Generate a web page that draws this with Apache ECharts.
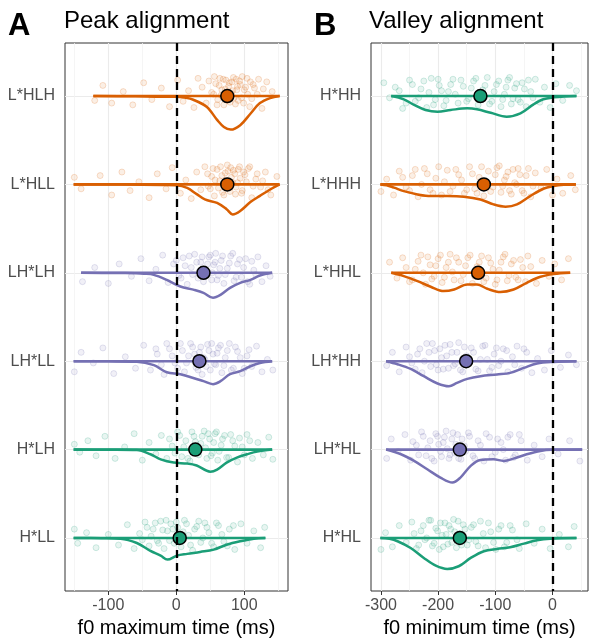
<!DOCTYPE html>
<html>
<head>
<meta charset="utf-8">
<script src="https://cdn.jsdelivr.net/npm/echarts@6/dist/echarts.min.js"></script>
<style>html,body{margin:0;padding:0;background:#fff}#c{width:590px;height:644px}</style>
</head>
<body>
<div id="c"></div>
<script>
// ---------------- DATA ----------------
const catsA = ['L*HLH', 'L*HLL', 'LH*LH', 'LH*LL', 'H*LH', 'H*LL'];
const catsB = ['H*HH', 'L*HHH', 'L*HHL', 'LH*HH', 'LH*HL', 'H*HL'];
const ticksA = [-100, 0, 100];
const minorA = [-150, -50, 50, 150];
const ticksB = [-300, -200, -100, 0];
const minorB = [-250, -150, -50, 50];
const zeroRef = 0;

// mean per category (ms)
const meansA = [75, 75, 40, 34, 28, 5];
const meansB = [-126, -120, -130, -151, -162, -162];

// density outline per category: [time, depth below the category line (category units)]
const densA_LHLH = [[-122,0],[-60,0.003],[-20,0.008],[0,0.008],[12,0.018],[25,0.042],[45,0.124],[60,0.27],[70,0.35],[80,0.38],[94,0.33],[109,0.2],[123,0.08],[138,0.023],[152,0]];
const densA_LHLL = [[-151,0],[-80,0.002],[-20,0.006],[0,0.01],[16,0.04],[30,0.11],[42,0.17],[60,0.21],[74,0.28],[83,0.34],[94,0.3],[109,0.2],[123,0.13],[138,0.057],[152,0]];
const densA_LHxLH = [[-140,0],[-90,0.002],[-60,0.006],[-48,0.01],[-33,0.023],[-14,0.08],[6,0.155],[25,0.19],[40,0.226],[54,0.283],[65,0.25],[79,0.17],[94,0.113],[109,0.08],[123,0.03],[141,0]];
const densA_LHxLL = [[-151,0],[-100,0.002],[-58,0.006],[-33,0.045],[-14,0.125],[6,0.147],[25,0.19],[40,0.226],[54,0.26],[65,0.226],[79,0.147],[94,0.113],[109,0.057],[123,0.02],[141,0]];
const densA_HLH = [[-151,0],[-100,0.002],[-58,0.006],[-38,0.053],[-23,0.11],[-4,0.147],[16,0.158],[30,0.18],[50,0.25],[60,0.226],[74,0.147],[89,0.09],[104,0.053],[119,0.023],[141,0]];
const densA_HLL = [[-151,0],[-110,0.002],[-82,0.008],[-58,0.057],[-38,0.147],[-23,0.2],[-13,0.245],[1,0.2],[16,0.18],[35,0.158],[55,0.132],[74,0.076],[94,0.037],[114,0.008],[131,0]];

const densB_HHH = [[-282,0],[-260,0.037],[-242,0.1],[-222,0.158],[-201,0.178],[-178,0.158],[-149,0.139],[-132,0.15],[-108,0.19],[-80,0.234],[-56,0.196],[-33,0.094],[-16,0.037],[2,0.015],[20,0.004],[42,0]];
const densB_LHHH = [[-301,0],[-290,0.01],[-277,0.037],[-260,0.076],[-236,0.113],[-213,0.132],[-184,0.132],[-155,0.139],[-126,0.17],[-103,0.226],[-82,0.252],[-62,0.226],[-39,0.132],[-16,0.049],[2,0.019],[20,0.005],[41,0]];
const densB_LHHL = [[-282,0],[-260,0.037],[-236,0.094],[-213,0.158],[-190,0.207],[-172,0.189],[-149,0.132],[-132,0.132],[-114,0.181],[-91,0.218],[-68,0.189],[-45,0.113],[-21,0.045],[2,0.015],[31,0]];
const densB_LHxHH = [[-291,0],[-271,0.034],[-248,0.087],[-225,0.17],[-201,0.252],[-181,0.283],[-167,0.245],[-149,0.2],[-126,0.17],[-97,0.15],[-74,0.132],[-50,0.076],[-27,0.026],[2,0.008],[42,0]];
const densB_LHxHL = [[-291,0],[-265,0.053],[-242,0.128],[-219,0.223],[-196,0.317],[-175,0.373],[-161,0.317],[-143,0.184],[-126,0.117],[-103,0.11],[-85,0.128],[-68,0.102],[-45,0.053],[-21,0.015],[0,0.003],[52,0]];
const densB_HHL = [[-301,0],[-285,0.01],[-271,0.037],[-248,0.113],[-225,0.226],[-204,0.313],[-184,0.35],[-164,0.32],[-143,0.226],[-120,0.15],[-97,0.124],[-74,0.105],[-50,0.064],[-27,0.026],[-4,0.008],[42,0]];

// raw observations: [time, vertical jitter (category units)]
const ptsA_LHLH = [[-120,0.05],[-108,-0.12],[-95,0.08],[-78,-0.05],[-64,0.1],[-48,-0.15],[-36,0.04],[-22,-0.09],[-10,0.12],[2,-0.18],[10,0.06],[18,-0.06],[26,0.13],[32,-0.2],[38,-0.1],[44,0.08],[48,-0.17],[52,-0.04],[56,-0.22],[60,0.1],[63,-0.12],[66,-0.01],[69,-0.19],[72,-0.08],[75,0.05],[78,-0.15],[81,-0.03],[84,-0.21],[87,0.09],[90,-0.11],[93,-0.17],[96,0.02],[100,-0.07],[104,-0.2],[108,0.12],[113,-0.13],[119,-0.02],[126,0.14],[133,-0.16],[141,-0.05],
  [55,-0.02],[58,-0.14],[61,0.04],[64,-0.2],[67,-0.07],[70,0.1],[73,-0.18],[74,-0.04],[77,-0.11],[79,0.07],[82,-0.16],[83,-0.06],[85,0.02],[88,-0.19],[89,-0.07],[91,0.05],[94,-0.13],[97,-0.22],[99,0.08],[102,-0.1],[105,-0.02],[109,-0.16],[111,0.03],[115,-0.09],[121,-0.19],[128,-0.08]];
const ptsA_LHLL = [[-150,-0.08],[-140,0.05],[-112,-0.1],[-95,0.12],[-80,-0.14],[-68,0.07],[-55,-0.03],[-40,0.15],[-28,-0.12],[-15,0.05],[-6,-0.19],[6,0.1],[14,-0.05],[22,0.16],[30,-0.14],[36,0.06],[42,-0.2],[47,0.02],[52,-0.09],[56,0.13],[60,-0.17],[64,-0.04],[68,0.09],[72,-0.13],[75,-0.22],[78,0.04],[81,-0.08],[84,-0.16],[87,0.11],[90,-0.02],[93,-0.2],[97,0.07],[101,-0.11],[106,-0.18],[111,0.15],[117,-0.06],[124,0.03],[131,-0.14],[139,0.12],[148,-0.09],
  [46,-0.12],[50,0.05],[54,-0.18],[57,-0.05],[62,0.04],[65,-0.2],[67,-0.1],[70,0.12],[73,-0.05],[76,-0.15],[79,0.08],[80,-0.19],[83,-0.02],[86,-0.12],[88,0.03],[91,-0.17],[94,-0.07],[96,0.1],[99,-0.14],[103,-0.03],[108,-0.2],[113,0.02],[119,-0.12],[127,-0.04],[135,0.06]];
const ptsA_LHxLH = [[-138,0.1],[-120,-0.06],[-100,0.12],[-84,-0.1],[-66,0.04],[-52,-0.16],[-40,0.09],[-30,-0.04],[-20,-0.2],[-12,0.11],[-4,-0.1],[4,0.03],[10,-0.17],[16,0.13],[22,-0.06],[27,-0.21],[32,0.06],[36,-0.12],[40,0.1],[44,-0.02],[48,-0.18],[52,0.08],[55,-0.09],[58,-0.22],[62,0.03],[66,-0.14],[70,0.12],[75,-0.05],[80,-0.19],[85,0.09],[90,-0.1],[96,0.05],[102,-0.16],[108,0.13],[114,-0.03],[120,-0.18],[126,0.1],[132,-0.08],[138,0.04],
  [0,-0.14],[7,0.06],[13,-0.08],[19,-0.19],[24,0.02],[30,-0.12],[34,-0.02],[38,-0.18],[42,0.04],[46,-0.1],[50,-0.2],[53,0.0],[57,-0.12],[60,0.08],[64,-0.05],[68,-0.19],[72,0.02],[78,-0.11],[83,-0.22],[88,0.05],[93,-0.15],[99,-0.06],[105,0.1],[111,-0.13],[117,0.02]];
const ptsA_LHxLL = [[-150,0.12],[-140,-0.1],[-122,0.02],[-108,-0.15],[-92,0.14],[-75,-0.05],[-60,0.08],[-48,-0.18],[-38,0.1],[-28,-0.08],[-18,0.15],[-10,-0.14],[-2,0.02],[6,-0.2],[12,0.12],[18,-0.06],[24,-0.16],[29,0.07],[34,-0.1],[38,0.15],[42,-0.02],[46,-0.19],[50,0.1],[54,-0.08],[58,0.04],[62,-0.15],[67,0.13],[72,-0.04],[78,-0.2],[84,0.08],[90,-0.11],[97,0.14],[104,-0.06],[111,0.06],[118,-0.17],[126,0.12],[134,-0.02],[142,0.1],
  [-30,-0.14],[-22,0.04],[-14,-0.2],[-6,-0.06],[2,0.08],[9,-0.12],[15,0.02],[21,-0.2],[27,-0.08],[32,0.1],[36,-0.16],[40,-0.04],[44,0.06],[48,-0.12],[52,-0.2],[56,0.03],[60,-0.09],[65,-0.18],[70,0.05],[75,-0.12],[81,0.1],[87,-0.16],[94,-0.04],[100,0.08],[107,-0.13]];
const ptsA_HLH = [[-150,-0.06],[-142,0.03],[-130,-0.1],[-118,0.07],[-105,-0.15],[-90,0.1],[-76,-0.03],[-62,-0.18],[-50,0.12],[-40,-0.08],[-30,0.05],[-22,-0.16],[-14,0.1],[-6,-0.04],[2,-0.2],[8,0.08],[14,-0.1],[20,0.13],[26,-0.15],[31,0.02],[36,-0.07],[41,-0.21],[45,0.1],[49,-0.12],[53,0.04],[57,-0.18],[61,0.12],[66,-0.05],[71,-0.16],[77,0.09],[83,-0.1],[90,0.14],[97,-0.03],[104,-0.17],[112,0.1],[120,-0.08],[128,0.06],[136,-0.14],[142,0.11],
  [-10,-0.12],[-2,0.04],[5,-0.16],[11,-0.03],[17,0.1],[23,-0.2],[28,-0.09],[33,0.06],[38,-0.15],[43,-0.02],[47,-0.18],[51,0.07],[55,-0.08],[59,-0.2],[63,0.02],[68,-0.12],[74,0.09],[80,-0.17],[86,-0.04],[93,-0.13],[100,0.06],[108,-0.1]];
const ptsA_HLL = [[-150,-0.1],[-145,0.06],[-132,-0.06],[-118,0.11],[-100,-0.04],[-85,0.08],[-72,-0.15],[-62,0.12],[-54,-0.05],[-46,-0.18],[-40,0.09],[-34,-0.1],[-28,0.03],[-23,-0.19],[-18,0.12],[-13,-0.08],[-8,-0.16],[-3,0.06],[2,-0.12],[7,0.1],[12,-0.2],[18,-0.03],[24,0.14],[30,-0.13],[36,0.05],[42,-0.17],[48,-0.06],[55,0.1],[62,-0.14],[70,0.04],[78,-0.1],[86,0.13],[95,-0.16],[104,0.06],[114,-0.08],[124,0.11],[130,-0.12],
  [-50,0.02],[-43,-0.12],[-37,-0.02],[-31,-0.17],[-26,0.06],[-20,-0.09],[-15,-0.2],[-10,0.03],[-5,-0.1],[0,-0.18],[4,0.04],[10,-0.07],[15,-0.16],[21,0.08],[27,-0.1],[33,-0.19],[39,0.0],[45,-0.12],[52,0.06],[59,-0.17],[67,-0.04],[75,0.09],[84,-0.14]];

const ptsB_HHH = [[-295,-0.15],[-285,0.02],[-275,-0.1],[-262,0.14],[-250,-0.18],[-240,0.06],[-230,-0.08],[-220,0.13],[-212,-0.2],[-205,0.04],[-198,-0.12],[-190,0.11],[-182,-0.05],[-174,-0.19],[-165,0.08],[-156,-0.11],[-147,0.03],[-138,-0.17],[-130,0.1],[-122,-0.07],[-114,-0.21],[-106,0.06],[-98,-0.13],[-90,0.12],[-84,-0.02],[-78,-0.18],[-72,0.09],[-66,-0.09],[-60,0.04],[-53,-0.15],[-46,0.12],[-38,-0.05],[-30,-0.19],[-22,0.07],[-14,-0.1],[-4,0.13],[6,-0.14],[18,0.05],[30,-0.12],[42,-0.06],
  [-268,-0.06],[-256,0.08],[-245,-0.13],[-234,0.02],[-225,-0.17],[-216,-0.04],[-208,0.1],[-200,-0.19],[-194,-0.06],[-186,0.05],[-178,-0.13],[-170,-0.02],[-160,-0.18],[-150,0.06],[-142,-0.09],[-134,-0.2],[-126,0.02],[-118,-0.12],[-110,0.09],[-102,-0.05],[-94,-0.17],[-87,0.04],[-81,-0.1],[-75,-0.21],[-69,0.03],[-63,-0.14],[-56,0.07],[-49,-0.08],[-42,-0.18],[-34,0.02]];
const ptsB_LHHH = [[-300,0.08],[-290,-0.06],[-278,0.12],[-268,-0.15],[-256,0.03],[-245,-0.1],[-235,0.14],[-224,-0.18],[-214,0.06],[-204,-0.07],[-194,0.12],[-184,-0.16],[-174,0.02],[-164,-0.11],[-154,0.1],[-145,-0.2],[-136,0.05],[-128,-0.08],[-120,0.13],[-112,-0.15],[-104,0.03],[-97,-0.19],[-90,0.09],[-84,-0.05],[-78,-0.14],[-72,0.11],[-66,-0.02],[-60,-0.18],[-53,0.07],[-46,-0.1],[-38,0.14],[-30,-0.13],[-20,0.04],[-10,-0.17],[0,0.12],[8,-0.06],[18,0.1],[32,-0.1],[40,0.06],
  [-262,-0.08],[-250,0.07],[-240,-0.17],[-229,0.0],[-219,-0.12],[-209,0.1],[-199,-0.2],[-189,-0.03],[-179,0.08],[-169,-0.17],[-159,-0.05],[-150,0.06],[-140,-0.12],[-132,0.1],[-124,-0.2],[-116,-0.03],[-108,0.08],[-100,-0.11],[-93,-0.21],[-87,0.02],[-81,-0.09],[-75,0.07],[-69,-0.17],[-63,0.0],[-57,-0.11],[-50,0.1],[-42,-0.18],[-34,0.02]];
const ptsB_LHHL = [[-285,-0.12],[-272,0.06],[-262,-0.17],[-250,0.1],[-240,-0.04],[-230,-0.2],[-222,0.13],[-214,-0.09],[-207,0.04],[-200,-0.16],[-193,0.11],[-186,-0.06],[-179,-0.21],[-172,0.08],[-164,-0.12],[-156,0.02],[-148,-0.17],[-140,0.12],[-132,-0.07],[-124,-0.19],[-116,0.06],[-108,-0.11],[-100,0.13],[-93,-0.03],[-86,-0.18],[-79,0.09],[-72,-0.1],[-64,0.05],[-56,-0.15],[-47,0.1],[-38,-0.07],[-28,0.12],[-18,-0.14],[-6,0.04],[4,-0.1],[16,0.08],[28,-0.16],
  [-256,-0.06],[-245,0.08],[-235,-0.13],[-226,0.0],[-218,-0.18],[-211,0.07],[-204,-0.08],[-196,-0.2],[-189,0.05],[-182,-0.12],[-175,-0.01],[-168,-0.17],[-160,0.09],[-152,-0.08],[-144,-0.2],[-136,0.04],[-128,-0.12],[-120,0.1],[-112,-0.17],[-104,-0.04],[-97,0.08],[-90,-0.12],[-83,-0.21],[-76,0.03],[-68,-0.14],[-60,0.08],[-52,-0.06],[-43,-0.19]];
const ptsB_LHxHH = [[-290,0.05],[-280,-0.1],[-268,0.12],[-256,-0.16],[-246,0.02],[-236,-0.08],[-228,0.13],[-220,-0.2],[-213,0.06],[-206,-0.12],[-200,0.1],[-194,-0.04],[-188,-0.18],[-182,0.08],[-176,-0.1],[-170,0.03],[-164,-0.21],[-157,0.12],[-150,-0.06],[-142,-0.15],[-134,0.09],[-126,-0.02],[-118,-0.18],[-110,0.11],[-102,-0.08],[-94,0.05],[-86,-0.14],[-78,0.12],[-70,-0.05],[-62,-0.17],[-54,0.08],[-45,-0.1],[-36,0.13],[-26,-0.03],[-14,0.1],[-2,-0.12],[14,0.07],[28,-0.07],[42,0.04],
  [-250,-0.05],[-240,0.09],[-232,-0.14],[-224,0.0],[-216,-0.1],[-210,-0.2],[-203,0.04],[-197,-0.14],[-191,0.09],[-185,-0.06],[-179,-0.19],[-173,0.05],[-167,-0.1],[-161,0.1],[-154,-0.16],[-146,0.0],[-138,-0.1],[-130,0.11],[-122,-0.17],[-114,-0.02],[-106,0.07],[-98,-0.15],[-90,0.0],[-80,-0.12],[-66,0.04],[-50,-0.14]];
const ptsB_LHxHL = [[-290,0.1],[-282,-0.12],[-270,0.02],[-258,-0.17],[-248,0.12],[-238,-0.05],[-229,-0.2],[-221,0.07],[-214,-0.1],[-207,0.13],[-201,-0.15],[-196,0.02],[-191,-0.08],[-186,-0.21],[-181,0.1],[-176,-0.12],[-171,0.04],[-166,-0.17],[-160,0.11],[-154,-0.04],[-147,-0.19],[-139,0.07],[-130,-0.1],[-120,0.13],[-110,-0.14],[-100,0.03],[-90,-0.08],[-82,0.12],[-74,-0.17],[-65,0.06],[-55,-0.1],[-44,0.12],[-32,-0.05],[-18,0.08],[-6,-0.12],[10,0.05],[30,-0.1],[48,0.13],
  [-244,-0.09],[-234,0.06],[-226,-0.15],[-218,-0.02],[-211,0.1],[-204,-0.18],[-199,-0.06],[-194,0.08],[-189,-0.14],[-184,-0.01],[-179,0.06],[-174,-0.19],[-169,-0.06],[-164,0.1],[-158,-0.12],[-152,0.02],[-145,-0.15],[-136,0.1],[-126,-0.05],[-116,-0.18],[-106,0.08],[-96,-0.12],[-86,0.0],[-78,-0.14],[-68,0.09],[-58,-0.17]];
const ptsB_HHL = [[-300,0.13],[-292,-0.06],[-280,0.1],[-268,-0.14],[-256,0.05],[-246,-0.18],[-238,0.12],[-230,-0.08],[-223,0.02],[-216,-0.2],[-210,0.09],[-204,-0.11],[-198,0.13],[-193,-0.03],[-188,-0.17],[-183,0.07],[-178,-0.1],[-173,-0.21],[-168,0.11],[-162,-0.05],[-156,-0.15],[-149,0.08],[-142,-0.12],[-134,0.04],[-126,-0.19],[-117,0.11],[-108,-0.07],[-99,0.13],[-90,-0.14],[-80,0.05],[-70,-0.09],[-58,0.12],[-46,-0.16],[-32,0.06],[-18,-0.1],[-4,0.12],[12,-0.04],[28,0.1],[38,-0.13],
  [-242,-0.05],[-234,0.08],[-226,-0.14],[-220,0.0],[-213,-0.2],[-207,0.06],[-201,-0.08],[-196,-0.17],[-191,0.1],[-186,-0.04],[-181,-0.14],[-176,0.05],[-171,-0.07],[-165,-0.19],[-159,0.08],[-153,-0.1],[-146,0.02],[-138,-0.15],[-130,0.09],[-121,-0.05],[-112,-0.17],[-103,0.05],[-94,-0.1],[-84,0.1],[-74,-0.14],[-62,0.02]];

// ---------------- STYLE ----------------
const ORANGE = '#D95F02', PURPLE = '#7570B3', GREEN = '#1B9E77';
const colorA = [ORANGE, ORANGE, PURPLE, PURPLE, GREEN, GREEN];
const colorB = [GREEN, ORANGE, ORANGE, PURPLE, PURPLE, GREEN];
const densA = [densA_LHLH, densA_LHLL, densA_LHxLH, densA_LHxLL, densA_HLH, densA_HLL];
const densB = [densB_HHH, densB_LHHH, densB_LHHL, densB_LHxHH, densB_LHxHL, densB_HHL];
const ptsA = [ptsA_LHLH, ptsA_LHLL, ptsA_LHxLH, ptsA_LHxLL, ptsA_HLH, ptsA_HLL];
const ptsB = [ptsB_HHH, ptsB_LHHH, ptsB_LHHL, ptsB_LHxHH, ptsB_LHxHL, ptsB_HHL];

function rgba(hex, a) {
  const n = parseInt(hex.slice(1), 16);
  return 'rgba(' + (n >> 16 & 255) + ',' + (n >> 8 & 255) + ',' + (n & 255) + ',' + a + ')';
}
const FONT = 'Liberation Sans, Arial, sans-serif';
const catIdx = [1, 2, 3, 4, 5, 6];

function buildSeries(xi, yi, means, dens, pts, colors) {
  const s = [];
  for (let k = 0; k < 6; k++) {
    const c = k + 1, col = colors[k];
    s.push({
      type: 'scatter', xAxisIndex: xi, yAxisIndex: yi, z: 1, silent: true,
      symbol: 'circle', symbolSize: 6,
      itemStyle: { color: rgba(col, 0.13), borderColor: rgba(col, 0.3), borderWidth: 0.8 },
      data: pts[k].map(p => [p[0], c + p[1]])
    });
  }
  for (let k = 0; k < 6; k++) {
    const c = k + 1, col = colors[k], d = dens[k];
    s.push({
      type: 'line', xAxisIndex: xi, yAxisIndex: yi, z: 2, silent: true,
      symbol: 'none', smooth: 0.35,
      lineStyle: { color: col, width: 2.5 },
      data: d.map(p => [p[0], c + p[1]])
    });
    s.push({
      type: 'line', xAxisIndex: xi, yAxisIndex: yi, z: 2, silent: true,
      symbol: 'none',
      lineStyle: { color: col, width: 2.6 },
      data: [[d[0][0], c], [d[d.length - 1][0], c]]
    });
  }
  s.push({
    type: 'line', xAxisIndex: xi, yAxisIndex: yi, z: 3, silent: true, data: [],
    markLine: {
      silent: true, symbol: ['none', 'none'], label: { show: false },
      lineStyle: { color: '#000', width: 2.3, type: [8, 5] },
      data: [{ xAxis: zeroRef }]
    }
  });
  s.push({
    type: 'scatter', xAxisIndex: xi, yAxisIndex: yi, z: 4, silent: true,
    symbol: 'circle', symbolSize: 13,
    itemStyle: { color: p => colors[p.dataIndex], borderColor: '#000', borderWidth: 1.5, opacity: 1 },
    data: means.map((m, k) => [m, catIdx[k]])
  });
  return s;
}

function xMain(grid, min, max, ticks, name) {
  return {
    type: 'value', gridIndex: grid, min: min, max: max, position: 'bottom',
    axisLine: { show: false },
    axisTick: { show: true, length: 4, lineStyle: { color: '#333', width: 1 }, customValues: ticks },
    axisLabel: { customValues: ticks, color: '#4D4D4D', fontSize: 16, fontFamily: FONT, margin: 7 },
    splitLine: { show: true, lineStyle: { color: '#EBEBEB', width: 1.1 } },
    name: name, nameLocation: 'middle', nameGap: 27,
    nameTextStyle: { color: '#000', fontSize: 20, fontFamily: FONT }
  };
}
function xMinor(grid, min, max, minors) {
  return {
    type: 'value', gridIndex: grid, min: min, max: max, position: 'bottom',
    axisLine: { show: false },
    axisTick: { show: false, customValues: minors },
    axisLabel: { show: false, customValues: minors },
    splitLine: { show: true, lineStyle: { color: '#F2F2F2', width: 0.8 } }
  };
}
function yCat(grid, cats) {
  return {
    type: 'value', gridIndex: grid, min: 0.4, max: 6.6, inverse: true,
    axisLine: { show: false },
    axisTick: { show: true, length: 4, lineStyle: { color: '#333', width: 1 }, customValues: catIdx },
    axisLabel: {
      customValues: catIdx, color: '#4D4D4D', fontSize: 16, fontFamily: FONT, margin: 10,
      formatter: v => cats[Math.round(v) - 1]
    },
    splitLine: { show: true, lineStyle: { color: '#EBEBEB', width: 1.1 } }
  };
}

const option = {
  animation: false,
  backgroundColor: '#fff',
  title: [
    { text: 'A', left: 8, top: 11, padding: 0, textStyle: { fontSize: 31, fontWeight: 'bold', color: '#000', fontFamily: FONT } },
    { text: 'Peak alignment', left: 64, top: 9, padding: 0, textStyle: { fontSize: 24, fontWeight: 'normal', color: '#000', fontFamily: FONT } },
    { text: 'B', left: 314, top: 11, padding: 0, textStyle: { fontSize: 31, fontWeight: 'bold', color: '#000', fontFamily: FONT } },
    { text: 'Valley alignment', left: 369, top: 9, padding: 0, textStyle: { fontSize: 24, fontWeight: 'normal', color: '#000', fontFamily: FONT } }
  ],
  grid: [
    { left: 65, top: 43, width: 223, height: 548, show: true, borderColor: '#333', borderWidth: 1, backgroundColor: 'transparent', containLabel: false },
    { left: 371, top: 43, width: 217, height: 548, show: true, borderColor: '#333', borderWidth: 1, backgroundColor: 'transparent', containLabel: false }
  ],
  xAxis: [
    xMain(0, -163.7, 164.3, ticksA, 'f0 maximum time (ms)'),
    xMinor(0, -163.7, 164.3, minorA),
    xMain(1, -317.4, 62.2, ticksB, 'f0 minimum time (ms)'),
    xMinor(1, -317.4, 62.2, minorB)
  ],
  yAxis: [yCat(0, catsA), yCat(1, catsB)],
  series: [].concat(
    buildSeries(0, 0, meansA, densA, ptsA, colorA),
    buildSeries(2, 1, meansB, densB, ptsB, colorB)
  )
};

const chart = echarts.init(document.getElementById('c'), null, { renderer: 'canvas' });
chart.setOption(option);
</script>
</body>
</html>
